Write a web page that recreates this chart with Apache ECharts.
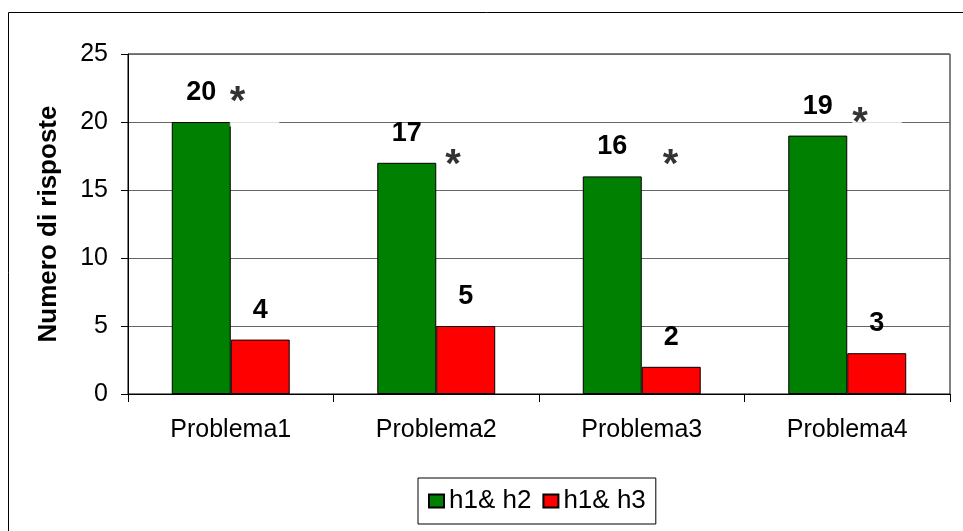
<!DOCTYPE html>
<html><head><meta charset="utf-8">
<script src="https://cdn.jsdelivr.net/npm/echarts@6/dist/echarts.min.js"></script>
<style>html,body{margin:0;padding:0;background:#fff}#c{width:963px;height:531px}</style>
</head><body><div id="c"></div>
<script>
const categories = ['Problema1', 'Problema2', 'Problema3', 'Problema4'];
const seriesNames = ['h1& h2', 'h1& h3'];
const h1h2 = [20, 17, 16, 19];
const h1h3 = [4, 5, 2, 3];
const asteriskLevel = [23.2, 18.5, 18.55, 21.6];
const asteriskShift = [-1, 9, 21, 5];
const yTicks = [0, 5, 10, 15, 20, 25];

const FONT = "'Liberation Sans', Arial, sans-serif";
const chart = echarts.init(document.getElementById('c'), null, {renderer: 'canvas'});
const valLabel = {show: true, position: 'top', distance: 16, fontFamily: FONT, fontSize: 27, fontWeight: 'bold', color: '#000'};
chart.setOption({
  animation: false,
  backgroundColor: '#fff',
  graphic: [{type: 'rect', z: -10, shape: {x: 8.5, y: 12.5, width: 2000, height: 2000}, style: {fill: 'none', stroke: '#000', lineWidth: 1}}],
  grid: {left: 128, right: 13, top: 54, bottom: 137, show: true, borderColor: '#000', borderWidth: 1},
  legend: {
    data: seriesNames, left: 418, top: 478, orient: 'horizontal', icon: 'rect',
    itemWidth: 15, itemHeight: 13, itemGap: 11, padding: [10, 10, 10, 10],
    borderColor: '#000', borderWidth: 1,
    textStyle: {fontFamily: FONT, fontSize: 26, color: '#000'}
  },
  xAxis: {
    type: 'category', data: categories,
    axisLine: {lineStyle: {color: '#000', width: 1}},
    axisTick: {show: true, length: 8, lineStyle: {color: '#000'}},
    axisLabel: {fontFamily: FONT, fontSize: 25, color: '#000', margin: 24}
  },
  yAxis: {
    type: 'value', min: 0, max: 25, interval: 5,
    name: 'Numero di risposte', nameLocation: 'middle', nameRotate: 90, nameGap: 66,
    nameTextStyle: {fontFamily: FONT, fontSize: 26, fontWeight: 'bold', color: '#000'},
    axisLine: {show: true, lineStyle: {color: '#000', width: 1}},
    axisTick: {show: true, length: 7, lineStyle: {color: '#000'}},
    axisLabel: {fontFamily: FONT, fontSize: 25, color: '#000', margin: 20,
      formatter: v => yTicks.includes(v) ? String(v) : ''},
    splitLine: {show: true, lineStyle: {color: '#666', width: 1}}
  },
  series: [
    {name: seriesNames[0], type: 'bar', data: h1h2, barGap: '0%', barCategoryGap: '42.6%',
      itemStyle: {color: '#008000', borderColor: '#000', borderWidth: 1}, label: valLabel},
    {name: seriesNames[1], type: 'bar', data: h1h3,
      itemStyle: {color: '#ff0000', borderColor: '#000', borderWidth: 1}, label: valLabel},
    {name: 'asterisk', type: 'scatter', symbolSize: 0, z: 5,
      data: asteriskLevel.map((v, i) => ({
        value: [categories[i], v],
        label: {offset: [asteriskShift[i], 0], padding: (i === 0 || i === 3) ? [4, 34, 4, 0] : [4, 34, 0, 0]}
      })),
      label: {show: true, position: 'inside', formatter: '*', align: 'left', verticalAlign: 'top',
        fontFamily: FONT, fontSize: 40, fontWeight: 'bold', color: '#000',
        backgroundColor: '#fff', padding: [4, 34, 4, 0]},
      tooltip: {show: false}
    }
  ]
});
</script></body></html>
